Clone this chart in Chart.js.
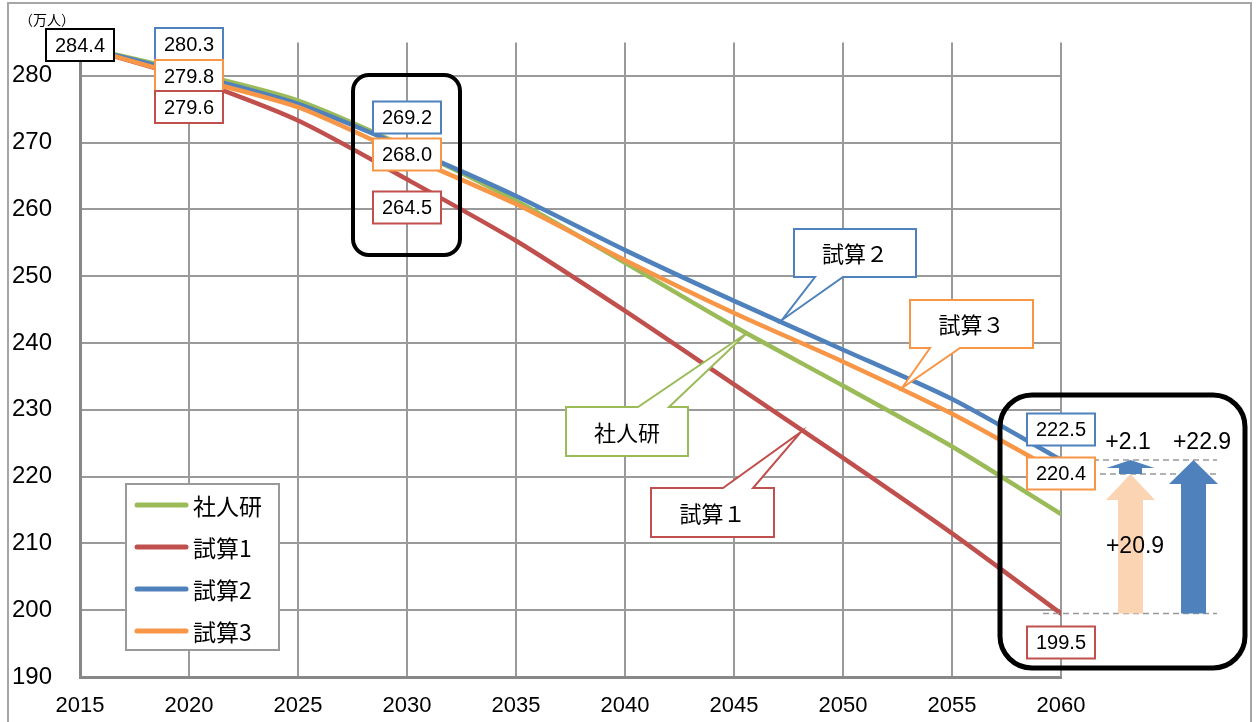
<!DOCTYPE html>
<html>
<head>
<meta charset="utf-8">
<script src="https://cdn.jsdelivr.net/npm/chart.js@4.4.1/dist/chart.umd.min.js"></script>
<style>
  html, body { margin: 0; padding: 0; background: #fff; }
  #wrap { width: 1259px; height: 722px; }
</style>
</head>
<body>
<div id="wrap"><canvas id="chart" width="1259" height="722"></canvas></div>
<script>
// 推計人口（万人）
const years = [2015, 2020, 2025, 2030, 2035, 2040, 2045, 2050, 2055, 2060];
const shajinken = [284.4, 280.6, 276.3, 269.3, 261.3, 252.0, 242.5, 233.6, 224.5, 214.4];
const shisan1   = [284.4, 279.6, 273.3, 264.5, 255.3, 244.8, 233.8, 222.8, 211.5, 199.5];
const shisan2   = [284.4, 280.3, 275.8, 269.2, 262.0, 253.9, 246.3, 239.0, 231.6, 222.5];
const shisan3   = [284.4, 279.8, 275.3, 268.0, 260.8, 252.4, 244.5, 237.2, 229.4, 220.4];
const seriesNames = ['社人研', '試算1', '試算2', '試算3'];
const calloutNames = ['社人研', '試算１', '試算２', '試算３'];
const gains = ['+2.1', '+20.9', '+22.9'];
const yTicks = [190, 200, 210, 220, 230, 240, 250, 260, 270, 280];
const unitLabel = '（万人）';

const GREEN = '#9BBB59', RED = '#C0504D', BLUE = '#4F81BD', ORANGE = '#F79646';
const colors = [GREEN, RED, BLUE, ORANGE];
const SANS = '"Liberation Sans", Arial, sans-serif';
const CJK = '"Noto Sans CJK JP", "Noto Sans", sans-serif';

const pts = arr => arr.map((v, i) => ({ x: years[i], y: v }));

function roundRect(ctx, x1, y1, x2, y2, r) {
  ctx.beginPath();
  ctx.moveTo(x1 + r, y1);
  ctx.arcTo(x2, y1, x2, y2, r);
  ctx.arcTo(x2, y2, x1, y2, r);
  ctx.arcTo(x1, y2, x1, y1, r);
  ctx.arcTo(x1, y1, x2, y1, r);
  ctx.closePath();
}

function arrow(ctx, cx, yFrom, yTo, shaftW, headW, headH, fill) {
  ctx.beginPath();
  ctx.moveTo(cx - shaftW / 2, yFrom);
  ctx.lineTo(cx - shaftW / 2, yTo + headH);
  ctx.lineTo(cx - headW / 2, yTo + headH);
  ctx.lineTo(cx, yTo);
  ctx.lineTo(cx + headW / 2, yTo + headH);
  ctx.lineTo(cx + shaftW / 2, yTo + headH);
  ctx.lineTo(cx + shaftW / 2, yFrom);
  ctx.closePath();
  ctx.fillStyle = fill;
  ctx.fill();
}

const extras = {
  id: 'extras',
  beforeDraw(chart) {
    const ctx = chart.ctx;
    ctx.save();
    ctx.strokeStyle = '#a6a6a6';
    ctx.lineWidth = 2;
    ctx.strokeRect(8, 3, 1243, 730);
    ctx.fillStyle = '#000';
    ctx.font = '14px ' + CJK;
    ctx.textBaseline = 'middle';
    ctx.fillText(unitLabel, 19, 20);
    ctx.restore();
  },
  afterDraw(chart) {
    const ctx = chart.ctx;
    const xs = chart.scales.x, ys = chart.scales.y;
    const X = v => xs.getPixelForValue(v), Y = v => ys.getPixelForValue(v);
    ctx.save();

    // rounded frames
    ctx.strokeStyle = '#000';
    ctx.lineWidth = 4;
    roundRect(ctx, 353, 75, 460, 255, 16);
    ctx.stroke();
    ctx.lineWidth = 5;
    roundRect(ctx, 1000, 395, 1245, 668, 32);
    ctx.stroke();

    // dashed guide lines at 2060
    const y2 = Y(shisan2[9]), y3 = Y(shisan3[9]), y1 = Y(shisan1[9]);
    ctx.strokeStyle = '#999';
    ctx.lineWidth = 1.5;
    ctx.setLineDash([6, 4]);
    [[1043, y2], [1100, y3], [1043, y1]].forEach(([x0, yy]) => {
      ctx.beginPath(); ctx.moveTo(x0, yy); ctx.lineTo(1217, yy); ctx.stroke();
    });
    ctx.setLineDash([]);

    // arrows
    arrow(ctx, 1130.5, y1, y3, 25, 49, 26, '#FBD4B4');
    arrow(ctx, 1130.5, y3, y2, 23, 48, 8, BLUE);
    arrow(ctx, 1193.5, y1, y2, 25, 49, 24, BLUE);
    ctx.fillStyle = '#000';
    ctx.font = '23px ' + SANS;
    ctx.textAlign = 'center';
    ctx.textBaseline = 'middle';
    ctx.fillText(gains[0], 1128, 443);
    ctx.fillText(gains[2], 1202, 443);
    ctx.fillText(gains[1], 1135, 547);

    // value tags
    const tags = [
      [shisan2, 0, '#000', 45],
      [shisan2, 1, BLUE, 44], [shisan3, 1, ORANGE, 76], [shisan1, 1, RED, 107],
      [shisan2, 3, BLUE, 117.5], [shisan3, 3, ORANGE, 154.5], [shisan1, 3, RED, 207.5],
      [shisan2, 9, BLUE, 429.5], [shisan3, 9, ORANGE, 473.5], [shisan1, 9, RED, 642.5]
    ];
    ctx.font = '20px ' + SANS;
    tags.forEach(([arr, i, col, cy]) => {
      const cx = X(years[i]);
      ctx.fillStyle = '#fff';
      ctx.fillRect(cx - 34, cy - 16, 68, 32);
      ctx.strokeStyle = col;
      ctx.lineWidth = 2;
      ctx.strokeRect(cx - 34, cy - 16, 68, 32);
      ctx.fillStyle = '#000';
      ctx.fillText(arr[i].toFixed(1), cx, cy + 1);
    });

    // callouts
    const callouts = [
      [calloutNames[2], BLUE, [794, 229, 916, 277], 'bottom', [815, 843], [782, 320]],
      [calloutNames[3], ORANGE, [910, 300, 1033, 348], 'bottom', [930, 960], [902, 388]],
      [calloutNames[0], GREEN, [566, 407, 688, 456], 'top', [638, 669], [747, 333]],
      [calloutNames[1], RED, [651, 488, 774, 537], 'top', [723, 753], [801, 432]]
    ];
    ctx.font = '22px ' + CJK;
    callouts.forEach(([txt, col, [a, b, c, d], edge, [p, q], [tx, ty]]) => {
      ctx.beginPath();
      if (edge === 'bottom') {
        ctx.moveTo(a, b); ctx.lineTo(c, b); ctx.lineTo(c, d);
        ctx.lineTo(q, d); ctx.lineTo(tx, ty); ctx.lineTo(p, d); ctx.lineTo(a, d);
      } else {
        ctx.moveTo(a, b); ctx.lineTo(p, b); ctx.lineTo(tx, ty); ctx.lineTo(q, b);
        ctx.lineTo(c, b); ctx.lineTo(c, d); ctx.lineTo(a, d);
      }
      ctx.closePath();
      ctx.fillStyle = '#fff';
      ctx.fill();
      ctx.strokeStyle = col;
      ctx.lineWidth = 2;
      ctx.stroke();
      ctx.fillStyle = '#000';
      ctx.fillText(txt, (a + c) / 2, (b + d) / 2 + 1);
    });

    // legend
    ctx.fillStyle = '#fff';
    ctx.fillRect(126, 484, 153, 166);
    ctx.strokeStyle = '#999';
    ctx.lineWidth = 2;
    ctx.strokeRect(126, 484, 153, 166);
    ctx.font = '23px ' + CJK;
    ctx.textAlign = 'left';
    ctx.lineCap = 'round';
    seriesNames.forEach((name, i) => {
      const cy = 505 + i * 42;
      ctx.strokeStyle = colors[i];
      ctx.lineWidth = 5;
      ctx.beginPath(); ctx.moveTo(137, cy); ctx.lineTo(186, cy); ctx.stroke();
      ctx.fillStyle = '#000';
      ctx.fillText(name, 193, cy + 1);
    });
    ctx.restore();
  }
};

new Chart(document.getElementById('chart'), {
  type: 'line',
  data: {
    datasets: [shajinken, shisan1, shisan2, shisan3].map((arr, i) => ({
      label: seriesNames[i],
      data: pts(arr),
      borderColor: colors[i],
      backgroundColor: colors[i],
      borderWidth: 4.5,
      pointRadius: 0,
      tension: 0.25,
      borderCapStyle: 'round',
      order: 4 - i
    }))
  },
  options: {
    responsive: false,
    animation: false,
    devicePixelRatio: 1,
    layout: { padding: { top: 41, right: 198, left: 0, bottom: 0 } },
    plugins: { legend: { display: false }, tooltip: { enabled: false } },
    scales: {
      x: {
        type: 'linear', min: 2015, max: 2060,
        afterFit: s => { s.height = 45; },
        afterBuildTicks: s => { s.ticks = years.map(v => ({ value: v })); },
        grid: { color: '#9a9a9a', lineWidth: 2, drawTicks: false },
        border: { color: '#888', width: 3 },
        ticks: { color: '#000', font: { family: SANS, size: 22 }, padding: 16, callback: v => String(v), maxRotation: 0 }
      },
      y: {
        min: 190, max: 285,
        afterFit: s => { s.width = 80; },
        afterBuildTicks: s => { s.ticks = yTicks.map(v => ({ value: v })); },
        grid: { color: '#9a9a9a', lineWidth: 2, drawTicks: false },
        border: { color: '#888', width: 3 },
        ticks: { color: '#000', font: { family: SANS, size: 24 }, padding: 28 }
      }
    }
  },
  plugins: [extras]
});
</script>
</body>
</html>
